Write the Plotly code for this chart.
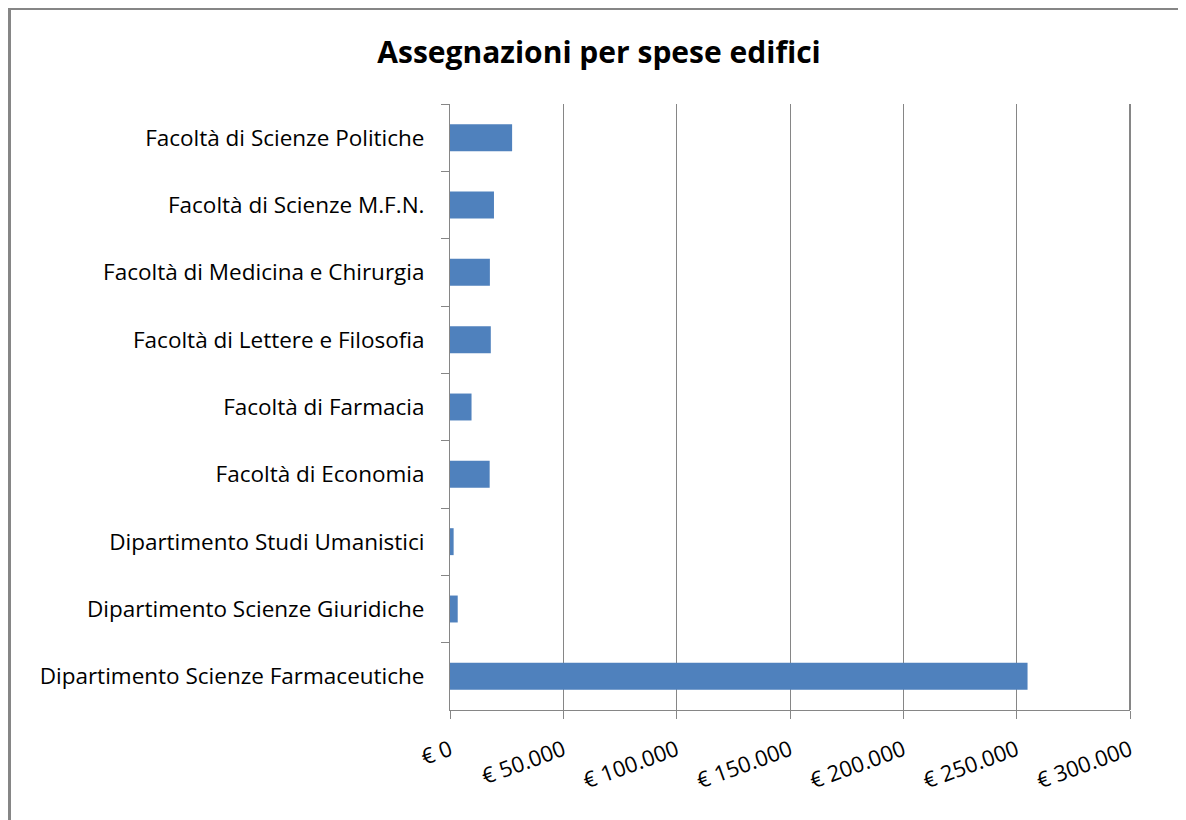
import plotly.graph_objects as go

categories = [
    "Facoltà di Scienze Politiche",
    "Facoltà di Scienze M.F.N.",
    "Facoltà di Medicina e Chirurgia",
    "Facoltà di Lettere e Filosofia",
    "Facoltà di Farmacia",
    "Facoltà di Economia",
    "Dipartimento Studi Umanistici",
    "Dipartimento Scienze Giuridiche",
    "Dipartimento Scienze Farmaceutiche",
]
values = [27400, 19400, 17600, 18000, 9500, 17500, 1600, 3400, 254800]
tick_vals = [0, 50000, 100000, 150000, 200000, 250000, 300000]
tick_text = ["€ 0", "€ 50.000", "€ 100.000", "€ 150.000", "€ 200.000", "€ 250.000", "€ 300.000"]
title = "Assegnazioni per spese edifici"

# page body has an 8px margin, so the figure is drawn offset by (8, 8)
OFF = 8
W, H = 1186 - OFF, 820 - OFF
L, R, T, B = 450 - OFF, 1130 - OFF, 104 - OFF, 710 - OFF

fig = go.Figure(go.Bar(
    y=categories, x=values, orientation="h",
    marker=dict(color="#4F81BD", line=dict(width=0)),
    width=0.4,
))

font_family = "'Open Sans', 'Noto Sans', sans-serif"

def px_x(p):
    return (p - L) / (R - L)

def px_y(p):
    return (B - p) / (B - T)

fig.update_layout(
    width=W, height=H,
    margin=dict(l=L, r=W - R, t=T, b=H - B, pad=0),
    paper_bgcolor="white", plot_bgcolor="white",
    showlegend=False,
    title=dict(text=title, x=(599 - OFF) / W, xanchor="center", y=1 - (52 - OFF) / H, yanchor="middle",
               font=dict(family=font_family, size=30, color="black", weight="bold")),
    font=dict(family=font_family, color="black"),
    xaxis=dict(
        range=[0, 300000], tickvals=tick_vals, ticktext=tick_text,
        showgrid=True, gridcolor="#868686", gridwidth=1,
        showline=True, linecolor="#868686", linewidth=1,
        ticks="outside", ticklen=8, tickcolor="#868686",
        tickangle=-20, tickfont=dict(size=22, family=font_family, color="black"),
        ticklabelstandoff=10,
        zeroline=False, fixedrange=True,
    ),
    yaxis=dict(
        autorange="reversed", type="category",
        showline=True, linecolor="#868686", linewidth=1,
        ticks="outside", ticklen=8, tickcolor="#868686", tickson="boundaries",
        tickfont=dict(size=22.5, family=font_family, color="black"),
        ticklabelstandoff=20,
        showgrid=False, zeroline=False, fixedrange=True,
    ),
    shapes=[
        dict(type="line", xref="paper", yref="paper",
             x0=px_x(1.5), x1=px_x(1.5), y0=px_y(0), y1=px_y(H + 10),
             line=dict(color="#868686", width=3)),
        dict(type="line", xref="paper", yref="paper",
             x0=px_x(0), x1=px_x(W + 10), y0=px_y(1), y1=px_y(1),
             line=dict(color="#868686", width=2)),
        dict(type="line", xref="paper", yref="paper",
             x0=1, x1=1, y0=0, y1=1,
             line=dict(color="#868686", width=2)),
    ],
)

fig.write_html("out.html")
